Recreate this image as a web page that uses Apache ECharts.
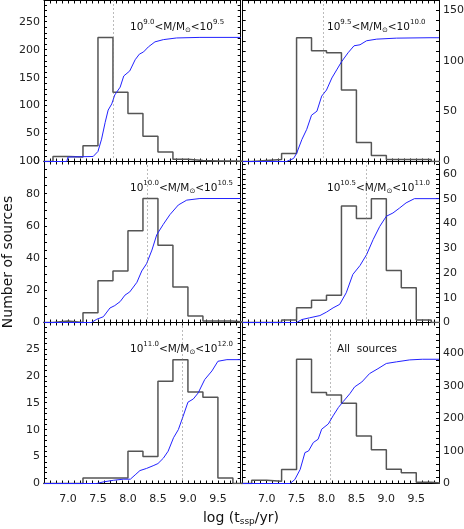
<!DOCTYPE html>
<html>
<head>
<meta charset="utf-8">
<script src="https://cdn.jsdelivr.net/npm/echarts@6/dist/echarts.min.js"></script>
<style>
html, body { margin: 0; padding: 0; background: #fff; }
#chart { width: 464px; height: 529px; }
</style>
</head>
<body>
<div id="chart"></div>
<script>
// histogram bins, 0.25 dex wide
const binEdges = [6.75, 7.0, 7.25, 7.5, 7.75, 8.0, 8.25, 8.5, 8.75, 9.0, 9.25, 9.5, 9.75];

// counts per bin for each mass range
const histM90  = [9, 8, 28, 222, 124, 86, 45, 17, 4, 2, 1, 1];
const histM95  = [1, 2, 8, 123, 110, 108, 71, 19, 6, 2, 2, 2];
const histM100 = [1, 0, 6, 26, 32, 57, 77, 48, 22, 4, 1, 1];
const histM105 = [0, 0, 1, 6, 9, 11, 47, 42, 50, 21, 14, 1];
const histM110 = [0, 0, 1, 1, 1, 6, 5, 19, 23, 17, 16, 1];
const histAll  = [10, 7, 43, 382, 280, 272, 247, 146, 104, 44, 33, 4];

// cumulative curves (scaled to histogram peak)
const cumX_M90 = [6.6, 6.98, 7.0, 7.42, 7.5, 7.56, 7.62, 7.67, 7.73, 7.78, 7.87, 7.93, 8.03, 8.12, 8.19, 8.26, 8.34, 8.45, 8.59, 8.81, 9.2, 9.88];
const cumY_M90 = [0, 0, 8, 9, 18, 40, 70, 92, 103, 119, 133, 153, 162, 182, 192, 196, 205, 214, 218, 221, 222, 222];

const cumX_M95 = [6.6, 7.33, 7.45, 7.5, 7.59, 7.67, 7.75, 7.84, 7.92, 8.0, 8.09, 8.17, 8.25, 8.36, 8.46, 8.56, 8.67, 8.84, 9.17, 9.73, 9.88];
const cumY_M95 = [0, 0, 3, 8, 22, 32, 46, 50, 65, 71, 83, 91, 99, 108, 115, 116, 120, 121.6, 122.6, 123, 123];

const cumX_M100 = [6.6, 7.39, 7.48, 7.59, 7.7, 7.78, 7.87, 7.95, 8.03, 8.15, 8.23, 8.31, 8.4, 8.48, 8.59, 8.7, 8.84, 8.98, 9.2, 9.88];
const cumY_M100 = [0, 0, 2, 3.6, 9, 10.5, 13, 17, 19, 25, 32, 36.5, 45, 54.5, 61, 67, 73, 76, 77, 77];

const cumX_M105 = [6.6, 7.5, 7.59, 7.72, 7.89, 8.0, 8.11, 8.22, 8.33, 8.44, 8.56, 8.67, 8.78, 8.89, 9.0, 9.11, 9.22, 9.33, 9.47, 9.88];
const cumY_M105 = [0, 0, 1.2, 1.9, 2.8, 4.2, 5.9, 7.3, 12, 19.4, 23, 27.4, 33.5, 38.8, 42.9, 44.2, 46.2, 48.3, 50, 50];

const cumX_M110 = [6.6, 7.48, 7.59, 7.76, 7.92, 8.04, 8.12, 8.2, 8.31, 8.42, 8.5, 8.59, 8.67, 8.76, 8.84, 8.92, 9.0, 9.09, 9.17, 9.28, 9.4, 9.5, 9.65, 9.88];
const cumY_M110 = [0, 0, 0.3, 0.6, 0.8, 0.8, 1.6, 2.4, 2.8, 3.3, 3.7, 4.7, 6, 8.5, 10, 12.5, 15.1, 15.7, 16.8, 19.3, 20.9, 22.7, 23, 23];

const cumX_All = [6.6, 7.39, 7.47, 7.56, 7.64, 7.7, 7.78, 7.86, 7.92, 8.03, 8.11, 8.2, 8.28, 8.39, 8.47, 8.59, 8.72, 8.86, 9.0, 9.17, 9.39, 9.6, 9.88];
const cumY_All = [0, 0, 12, 43, 95, 100, 126, 136, 167, 183, 208, 234, 252, 276, 297, 312, 338, 353, 369, 374, 380, 382, 382];

// dotted vertical lines (median age)
const medians = [7.745, 7.95, 8.33, 8.67, 8.91, 8.07];

// y axis ranges and ticks
const yMax   = [288, 160, 100, 65, 29.9, 495];
const yMajor = [50, 50, 20, 10, 5, 100];
const yMinor = [10, 10, 5, 2, 1, 20];

const panelLabels = [
    '{n|10}{p|9.0}{n|<M/M}{b|⊙}{n|<10}{p|9.5}',
    '{n|10}{p|9.5}{n|<M/M}{b|⊙}{n|<10}{p|10.0}',
    '{n|10}{p|10.0}{n|<M/M}{b|⊙}{n|<10}{p|10.5}',
    '{n|10}{p|10.5}{n|<M/M}{b|⊙}{n|<10}{p|11.0}',
    '{n|10}{p|11.0}{n|<M/M}{b|⊙}{n|<10}{p|12.0}',
    '{n|All  sources}'
];

const hists = [histM90, histM95, histM100, histM105, histM110, histAll];
const cumXs = [cumX_M90, cumX_M95, cumX_M100, cumX_M105, cumX_M110, cumX_All];
const cumYs = [cumY_M90, cumY_M95, cumY_M100, cumY_M105, cumY_M110, cumY_All];

const FONT = 'DejaVu Sans';
const colLeft = [44, 242.7];
const colWidth = [196.7, 196.3];
const rowTop = [0.5, 161.5, 322.5];
const rowHeight = 161;

function isMult(v, step) {
    const r = v / step;
    return Math.abs(r - Math.round(r)) < 1e-6;
}

const chart = echarts.init(document.getElementById('chart'));

const grids = [], xAxes = [], yAxes = [], series = [], graphics = [];
const axisLine = { show: true, onZero: false, lineStyle: { color: '#000', width: 1 } };
const axisTick = { show: true, inside: true, length: 3, lineStyle: { color: '#000', width: 1 } };

hists.forEach(function (hist, i) {
    const col = i % 2, row = Math.floor(i / 2);
    grids.push({ left: colLeft[col], top: rowTop[row], width: colWidth[col], height: rowHeight, outerBoundsMode: 'none' });

    ['bottom', 'top'].forEach(function (pos) {
        xAxes.push({
            gridIndex: i, type: 'value', position: pos,
            min: 6.6, max: 9.88, interval: 0.1,
            axisLine: axisLine, axisTick: axisTick, splitLine: { show: false },
            axisLabel: {
                show: pos === 'bottom' && row === 2,
                color: '#222', fontSize: 11, fontFamily: FONT, margin: 10,
                formatter: function (v) { return isMult(v, 0.5) ? v.toFixed(1) : ''; }
            }
        });
    });
    ['left', 'right'].forEach(function (pos) {
        yAxes.push({
            gridIndex: i, type: 'value', position: pos,
            min: 0, max: yMax[i], interval: yMinor[i],
            axisLine: axisLine, axisTick: axisTick, splitLine: { show: false },
            axisLabel: {
                show: (pos === 'left' && col === 0) || (pos === 'right' && col === 1),
                color: '#222', fontSize: 11, fontFamily: FONT, margin: 4,
                formatter: function (v) { return isMult(v, yMajor[i]) ? String(v) : ''; }
            }
        });
    });

    const histData = [[6.5, 0]];
    hist.forEach(function (c, k) { histData.push([binEdges[k], c]); });
    histData.push([binEdges[binEdges.length - 1], 0], [10.0, 0]);

    series.push({
        type: 'line', xAxisIndex: 2 * i, yAxisIndex: 2 * i,
        data: histData, step: 'end', symbol: 'none', z: 3,
        lineStyle: { color: '#555', width: 1.5 },
        markLine: {
            silent: true, symbol: 'none', label: { show: false },
            lineStyle: { type: [1, 3], color: '#777', width: 1 },
            data: [{ xAxis: medians[i] }]
        }
    });
    series.push({
        type: 'line', xAxisIndex: 2 * i, yAxisIndex: 2 * i,
        data: cumXs[i].map(function (x, k) { return [x, cumYs[i][k]]; }),
        symbol: 'none', z: 4,
        lineStyle: { color: '#2222ff', width: 1 }
    });

    graphics.push({
        type: 'text',
        x: i === 5 ? 337 : (col === 0 ? 130 : 327),
        y: rowTop[row] + 26.5,
        style: {
            text: panelLabels[i],
            align: 'left', verticalAlign: 'middle',
            textAlign: 'left', textVerticalAlign: 'middle',
            fill: '#111',
            rich: {
                n: { fontSize: 10.5, fontFamily: FONT, color: '#111', lineHeight: 14 },
                p: { fontSize: 7, fontFamily: FONT, color: '#111', padding: [0, 0, 10, 0] },
                b: { fontSize: 7, fontFamily: FONT, color: '#111', padding: [7, 0, 0, 0] }
            }
        }
    });
});

graphics.push({
    type: 'text', x: 8, y: 262, rotation: Math.PI / 2,
    style: {
        text: 'Number of sources', fill: '#111',
        font: '14px "DejaVu Sans"',
        align: 'center', verticalAlign: 'middle',
        textAlign: 'center', textVerticalAlign: 'middle'
    }
});
graphics.push({
    type: 'text', x: 241, y: 518,
    style: {
        text: '{a|log (t}{s|ssp}{a|/yr)}',
        align: 'center', verticalAlign: 'middle',
        textAlign: 'center', textVerticalAlign: 'middle',
        fill: '#111',
        rich: {
            a: { fontSize: 14, fontFamily: FONT, color: '#111', lineHeight: 16 },
            s: { fontSize: 9, fontFamily: FONT, color: '#111', padding: [8, 0, 0, 0] }
        }
    }
});

chart.setOption({
    animation: false,
    backgroundColor: '#fff',
    grid: grids,
    xAxis: xAxes,
    yAxis: yAxes,
    series: series,
    graphic: graphics
});
</script>
</body>
</html>
